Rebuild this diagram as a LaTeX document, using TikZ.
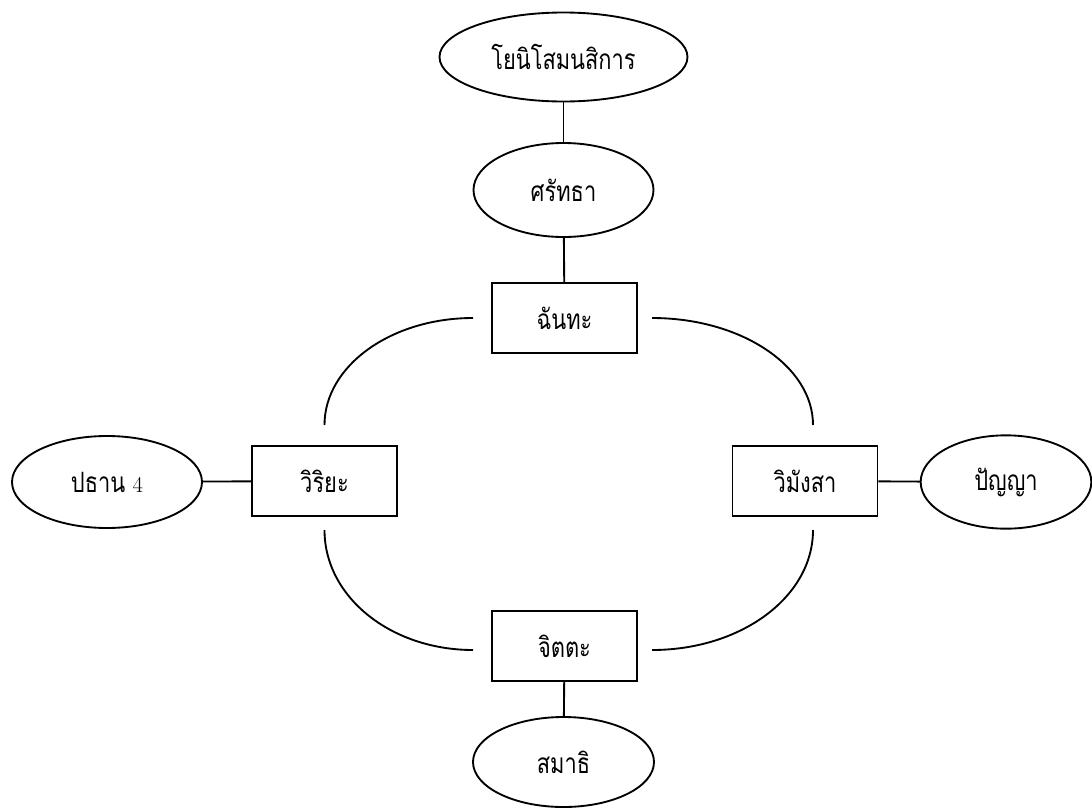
\documentclass[tikz,border=0pt]{standalone}
\usepackage{fontspec}
\newfontfamily\thaifont[Script=Thai, FakeStretch=0.78]{Loma}
\usetikzlibrary{shapes.geometric}

\begin{document}
\begin{tikzpicture}[x=0.75pt, y=-0.75pt, line width=1.4pt,
   every node/.style={font=\thaifont\fontsize{21}{24}\selectfont, inner sep=0pt},
   concept/.style={draw, ellipse},
   factor/.style={draw, rectangle, minimum width=108.75pt, minimum height=52.5pt}]
   \useasboundingbox (0,0) rectangle (1092,807);
   % ellipses
   \node (yoniso) at (563.5,57) [concept, minimum width=186pt, minimum height=66.75pt] {โยนิโสมนสิการ};
   \node (saddha) at (563.5,190) [concept, minimum width=135pt, minimum height=70.5pt] {ศรัทธา};
   \node (pathan) at (107,482) [concept, minimum width=142.5pt, minimum height=69pt] {ปธาน {\rmfamily\fontsize{17}{20}\selectfont 4}};
   \node (panya) at (1006,482) [concept, minimum width=128pt, minimum height=70pt] {ปัญญา};
   \node (samadhi) at (563.5,762) [concept, minimum width=135.75pt, minimum height=67.5pt] {สมาธิ};
   % boxes
   \node (chanda) at (564.5,318) [factor] {ฉันทะ};
   \node (viriya) at (324.5,481) [factor] {วิริยะ};
   \node (vimamsa) at (805,481) [factor] {วิมังสา};
   \node (citta) at (564.5,646) [factor] {จิตตะ};
   % straight links
   \draw (yoniso) -- (saddha);
   \draw (saddha) -- (chanda);
   \draw (citta) -- (samadhi);
   \draw (pathan) -- (viriya);
   \draw (vimamsa) -- (panya);
   % arc ends
   \coordinate (tl1) at (473,318);
   \coordinate (tl2) at (324.5,425);
   \coordinate (tr1) at (652,318);
   \coordinate (tr2) at (813,425);
   \coordinate (bl1) at (324.5,530);
   \coordinate (bl2) at (473,650);
   \coordinate (br1) at (813,530);
   \coordinate (br2) at (652,650);
   % arcs
   \draw (tl1) .. controls +(-82,0) and +(0,-59) .. (tl2);
   \draw (tr1) .. controls +(89,0) and +(0,-59) .. (tr2);
   \draw (bl1) .. controls +(0,67) and +(-82,0) .. (bl2);
   \draw (br1) .. controls +(0,67) and +(89,0) .. (br2);
\end{tikzpicture}
\end{document}
